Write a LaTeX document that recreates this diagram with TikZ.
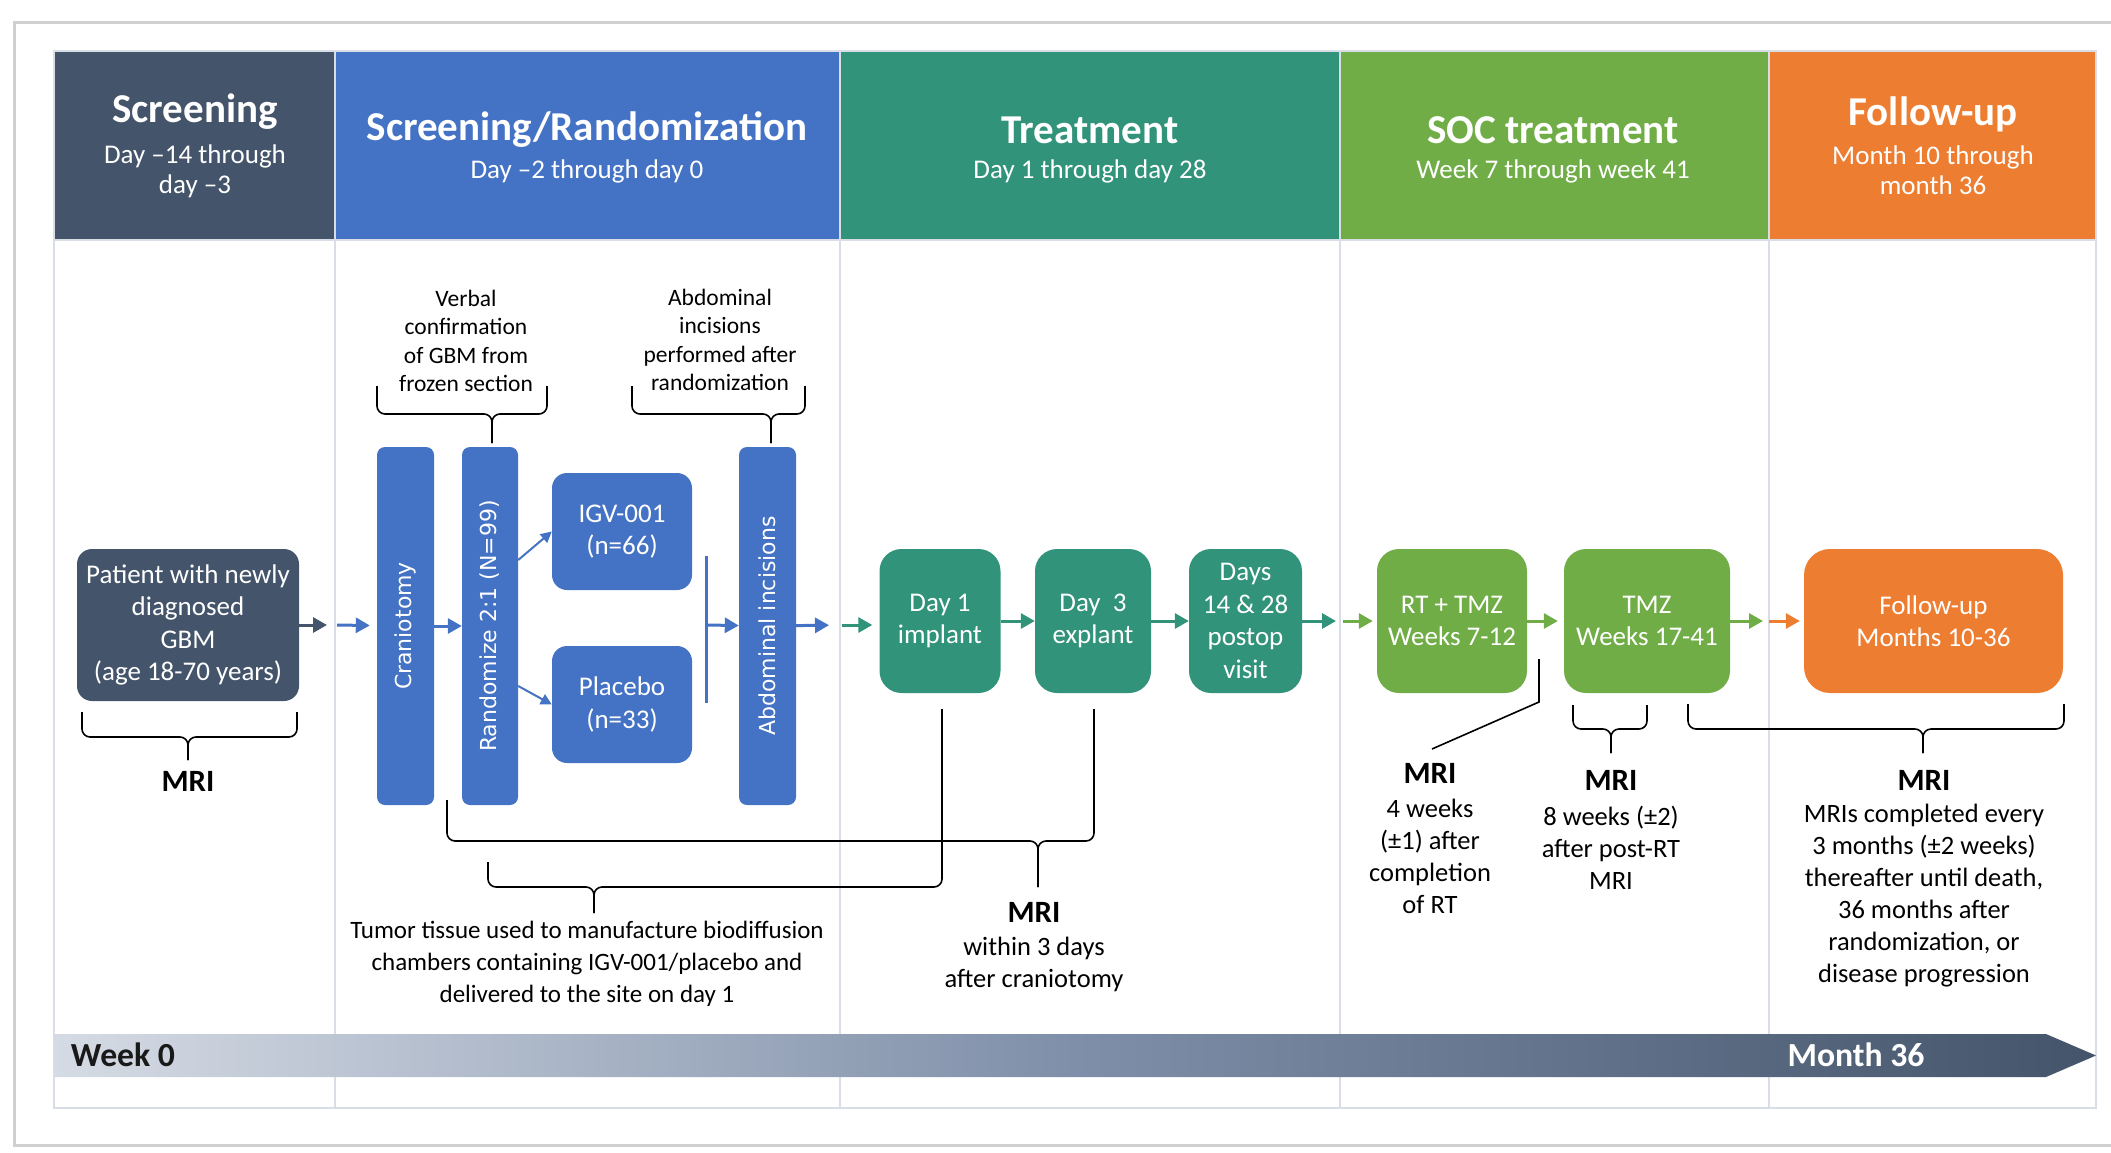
\documentclass[tikz,border=0pt]{standalone}
\usepackage{fontspec}
\setmainfont{Carlito}
\newfontfamily\vertfont{DejaVu Sans}
\usepackage{tikz}
\usetikzlibrary{arrows.meta, positioning, calc}

\definecolor{slateG}{HTML}{44546A}
\definecolor{offBlue}{HTML}{4472C4}
\definecolor{tealG}{HTML}{31937A}
\definecolor{leafG}{HTML}{70AD47}
\definecolor{offOrange}{HTML}{ED7D31}
\definecolor{gridC}{HTML}{D9DEE6}
\definecolor{frameC}{HTML}{CFCFCF}
\definecolor{tlLight}{HTML}{D5DBE4}
\definecolor{tlMid}{HTML}{7F8FA9}

\tikzset{
  hTitle/.style = {text=white, inner sep=0pt, font=\fontsize{41}{48}\selectfont\bfseries},
  hSub/.style   = {text=white, inner sep=0pt, align=center, font=\fontsize{27}{30}\selectfont},
  block/.style  = {rectangle, fill=offBlue, text=white, align=center, inner sep=0pt,
                   rounded corners=15pt, font=\fontsize{27}{32.5}\selectfont},
  blockS/.style = {block, fill=slateG},
  blockT/.style = {block, fill=tealG, rounded corners=22pt, minimum height=144pt},
  blockG/.style = {block, fill=leafG, rounded corners=22pt, minimum height=144pt},
  blockO/.style = {block, fill=offOrange, rounded corners=26pt, minimum height=144pt},
  vblock/.style = {rectangle, fill=offBlue, text=white, rotate=90, inner sep=0pt,
                   rounded corners=8pt, minimum width=358pt,
                   font=\vertfont\fontsize{22}{26}\selectfont},
  noteTxt/.style = {align=center, inner sep=0pt, font=\fontsize{23.5}{28.5}\selectfont},
  mri/.style    = {inner sep=0pt, font=\fontsize{31}{36}\selectfont\bfseries},
  mriTxt/.style = {align=center, inner sep=0pt, font=\fontsize{26.5}{32}\selectfont},
  arrow/.style  = {line width=3pt, -{Triangle[length=14pt, width=15pt]}},
  thinarrow/.style = {line width=2pt, -{Triangle[length=11pt, width=11pt]}},
  brc/.style    = {line width=1.6pt, rounded corners=8pt},
}

% curly brace: x1,y1top, x2,y2top, xtip, ybar, ytip
\newcommand{\curlyb}[7]{%
  \draw[brc] (#1,#2) -- (#1,#6) -- (#5,#6) -- (#5,#7);
  \draw[brc] (#3,#4) -- (#3,#6) -- (#5,#6) -- (#5,#7);}

\begin{document}
\begin{tikzpicture}[x=1pt, y=-1pt]
    \useasboundingbox (0,0) rectangle (2111,1153);

    %% Outer frame
    \draw[frameC, line width=3pt] (2111,23) -- (14,23) -- (14,1145) -- (2111,1145);

    %% Header cells
    \fill[slateG]    (54,51)   rectangle (335,240);
    \fill[offBlue]   (335,51)  rectangle (840,240);
    \fill[tealG]     (840,51)  rectangle (1340,240);
    \fill[leafG]     (1340,51) rectangle (1769,240);
    \fill[offOrange] (1769,51) rectangle (2096,240);

    %% Grid
    \draw[gridC, line width=2pt] (54,51) rectangle (2096,1108);
    \draw[gridC, line width=2pt] (54,240) -- (2096,240);
    \foreach \cx in {335,840,1340,1769}
      \draw[gridC, line width=2pt] (\cx,51) -- (\cx,1108);

    %% Timeline
    \shade[left color=tlLight, right color=slateG, middle color=tlMid]
      (54,1034) -- (2046,1034) -- (2096,1055.5) -- (2046,1077) -- (54,1077) -- cycle;
    \node[inner sep=0pt, font=\fontsize{33.7}{40}\selectfont\bfseries, text=black!90] (wk0) at (123,1055) {Week 0};
    \node[inner sep=0pt, font=\fontsize{33.7}{40}\selectfont\bfseries, text=white] (m36) at (1856,1055) {Month 36};

    %% Header texts
    \node[hTitle] (tScr) at (195,112)  {Screening};
    \node[hSub]   (sScr) at (195,171)  {Day –14 through\\day –3};
    \node[hTitle] (tRnd) at (587,130)  {Screening/Randomization};
    \node[hSub]   (sRnd) at (587,171)  {Day –2 through day 0};
    \node[hTitle] (tTrt) at (1090,130) {Treatment};
    \node[hSub]   (sTrt) at (1090,171) {Day 1 through day 28};
    \node[hTitle] (tSoc) at (1553,130) {SOC treatment};
    \node[hSub]   (sSoc) at (1553,171) {Week 7 through week 41};
    \node[hTitle] (tFu)  at (1933,114) {Follow-up};
    \node[hSub]   (sFu)  at (1933,170) {Month 10 through\\month 36};

    %% Flow boxes
    \node[blockS, minimum width=222pt, minimum height=152pt] (pat) at (188,625)
         {Patient with newly\\diagnosed\\GBM\\(age 18-70 years)};
    \node[vblock, minimum height=57pt] (cran) at (405.5,626) {Craniotomy};
    \node[vblock, minimum height=56pt] (rand) at (490,626)   {Randomize 2:1 (N=99)};
    \node[block, minimum width=140pt, minimum height=117pt] (igv)  at (622,531.5) {IGV-001\\(n=66)};
    \node[block, minimum width=140pt, minimum height=117pt] (plac) at (622,704.5) {Placebo\\(n=33)};
    \node[vblock, minimum height=57pt] (abd) at (767.5,626) {Abdominal incisions};
    \node[blockT, minimum width=121pt] (day1)  at (940,621)    {Day 1\\implant};
    \node[blockT, minimum width=116pt] (day3)  at (1093,621)   {Day~~3\\explant};
    \node[blockT, minimum width=113pt] (post)  at (1245.5,621) {Days\\14 \& 28\\postop\\visit};
    \node[blockG, minimum width=150pt] (rttmz) at (1452,621)   {RT + TMZ\\Weeks 7-12};
    \node[blockG, minimum width=166pt] (tmz)   at (1647,621)   {TMZ\\Weeks 17-41};
    \node[blockO, minimum width=259pt] (fu)    at (1933.5,621) {Follow-up\\Months 10-36};

    %% Column crossings and merge line
    \coordinate (c1) at (335,625);
    \coordinate (c2) at (840,625);
    \coordinate (c3) at (1340,621);
    \coordinate (c4) at (1769,621);
    \coordinate (mTop) at (706,556);
    \coordinate (mBot) at (706,703);
    \coordinate (mMid) at (706,625);

    %% Arrows
    \draw[arrow, slateG, shorten >=8pt] (pat) -- (c1);
    \draw[arrow, offBlue, shorten <=2pt, shorten >=7pt] (c1) -- (cran);
    \draw[arrow, offBlue] (cran) -- (rand);
    \draw[thinarrow, offBlue] ($(rand.south)+(0,-66)$) -- (igv.west);
    \draw[thinarrow, offBlue] ($(rand.south)+(0,60)$) -- (plac.west);
    \draw[offBlue, line width=3pt] (mTop) -- (mBot);
    \draw[arrow, offBlue] (mMid) -- (abd);
    \draw[arrow, offBlue, shorten >=11pt] (abd) -- (c2);
    \draw[arrow, tealG, shorten <=2pt, shorten >=7pt] (c2) -- (c2 -| day1.west);
    \draw[arrow, tealG] (day1) -- (day3);
    \draw[arrow, tealG] (day3) -- (post);
    \draw[arrow, tealG, shorten >=4pt] (post) -- (c3);
    \draw[arrow, leafG, shorten <=3pt, shorten >=4pt] (c3) -- (rttmz);
    \draw[arrow, leafG, shorten >=6pt] (rttmz) -- (tmz);
    \draw[arrow, leafG, shorten >=6pt] (tmz) -- (c4);
    \draw[arrow, offOrange, shorten >=4pt] (c4) -- (fu);

    %% Braces
    \curlyb{82}{712}{297}{712}{188}{737}{760}
    \curlyb{377}{386}{547}{386}{492}{414}{443}
    \curlyb{632}{386}{805}{386}{771}{414}{443}
    \curlyb{488}{862}{942}{709}{594}{887}{913}
    \curlyb{447}{800}{1094}{709}{1038}{841}{887}
    \curlyb{1573}{705}{1647}{705}{1611}{729}{753}
    \curlyb{1688}{704}{2064}{704}{1923}{729}{753}
    \draw[line width=1.6pt] (1539,659) -- (1539,702) -- (1432,749);

    %% Annotations
    \node[mri] (mri0) at (188,781) {MRI};
    \node[noteTxt] (verbal) at (466,341) {Verbal\\confirmation\\of GBM from\\frozen section};
    \node[noteTxt] (abdTxt) at (720,340) {Abdominal\\incisions\\performed after\\randomization};
    \node[mriTxt, font=\fontsize{25}{32}\selectfont] (tumor) at (587,964)
         {Tumor tissue used to manufacture biodiffusion\\chambers containing IGV-001/placebo and\\delivered to the site on day 1};
    \node[mri]    (mri1)    at (1034,912) {MRI};
    \node[mriTxt] (mri1Txt) at (1034,964) {within 3 days\\after craniotomy};
    \node[mri]    (mri2)    at (1430,773) {MRI};
    \node[mriTxt] (mri2Txt) at (1430,856) {4 weeks\\(±1) after\\completion\\of RT};
    \node[mri]    (mri3)    at (1611,780) {MRI};
    \node[mriTxt] (mri3Txt) at (1611,848) {8 weeks (±2)\\after post-RT\\MRI};
    \node[mri]    (mri4)    at (1924,780) {MRI};
    \node[mriTxt] (mri4Txt) at (1924,896) {MRIs completed every\\3 months (±2 weeks)\\thereafter until death,\\36 months after\\randomization, or\\disease progression};

\end{tikzpicture}
\end{document}
